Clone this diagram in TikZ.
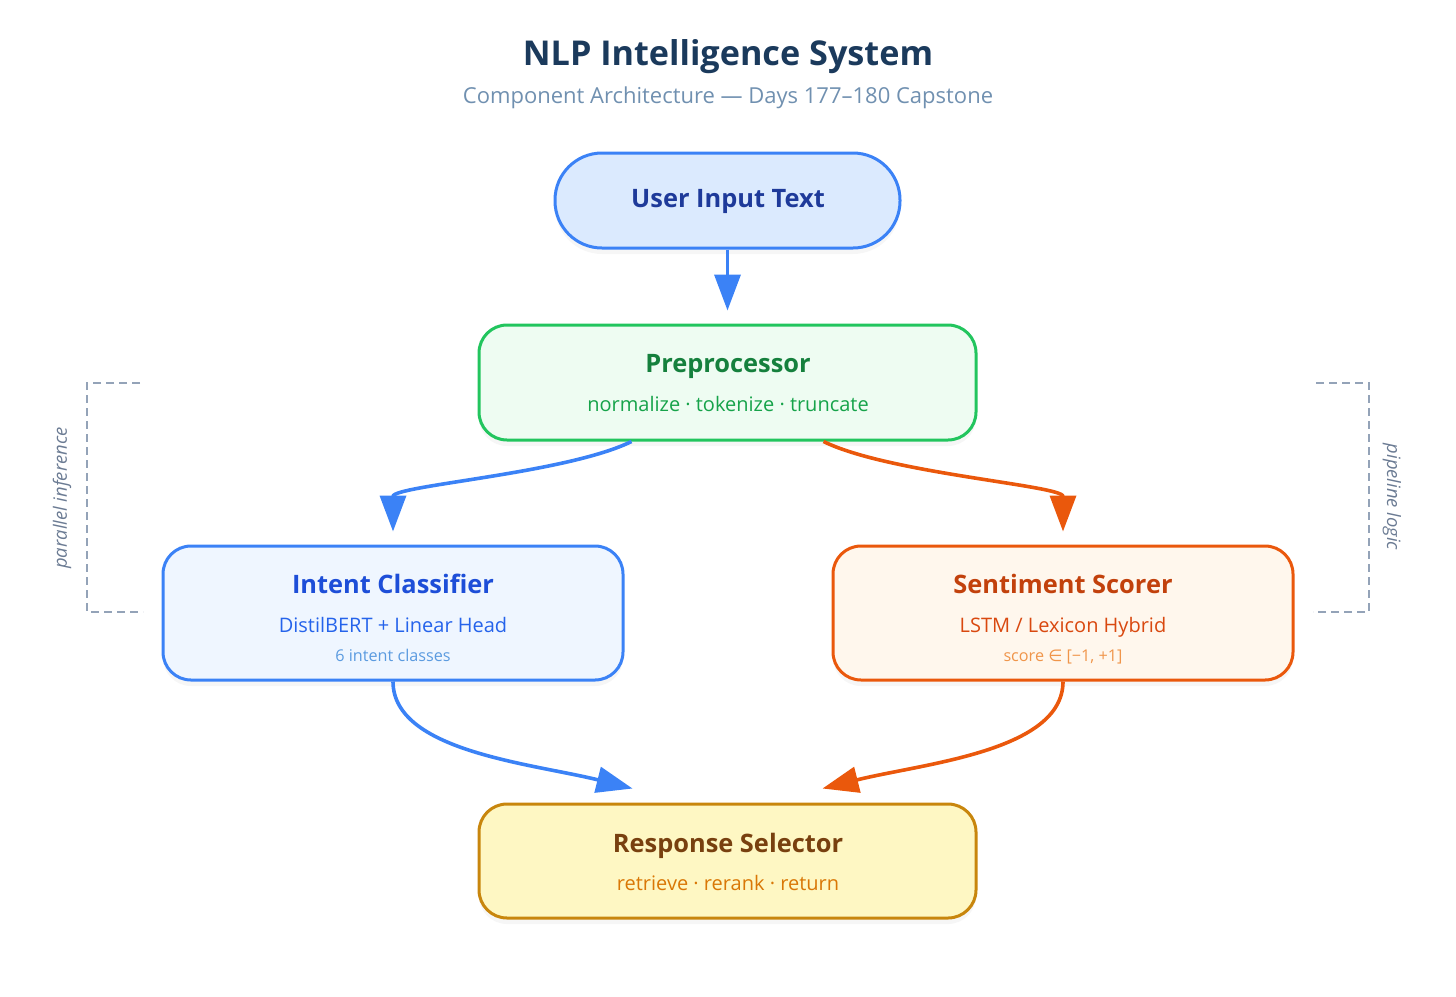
\documentclass[tikz,border=0pt]{standalone}
\usepackage{fontspec}
\setmainfont{Open Sans}
\newfontfamily\symfont{DejaVu Sans}
\usetikzlibrary{arrows.meta,shadows}

\definecolor{titleInk}{HTML}{1B3A5C}
\definecolor{subInk}{HTML}{7090B0}
\definecolor{userFill}{HTML}{DBEAFE}
\definecolor{userLine}{HTML}{3B82F6}
\definecolor{userInk}{HTML}{1E3A9A}
\definecolor{prepFill}{HTML}{EEFCF2}
\definecolor{prepLine}{HTML}{22C55E}
\definecolor{prepInk}{HTML}{15803D}
\definecolor{prepSub}{HTML}{16A34A}
\definecolor{intFill}{HTML}{EFF6FF}
\definecolor{intLine}{HTML}{3B82F6}
\definecolor{intInk}{HTML}{1D4ED8}
\definecolor{intSub}{HTML}{2563EB}
\definecolor{intNote}{HTML}{5B9BE0}
\definecolor{senFill}{HTML}{FFF7ED}
\definecolor{senLine}{HTML}{EA580C}
\definecolor{senInk}{HTML}{C2410C}
\definecolor{senSub}{HTML}{D9480F}
\definecolor{senNote}{HTML}{F0954A}
\definecolor{resFill}{HTML}{FEF7C3}
\definecolor{resLine}{HTML}{C8860D}
\definecolor{resInk}{HTML}{78400F}
\definecolor{resSub}{HTML}{D97706}
\definecolor{brLine}{HTML}{94A3B8}
\definecolor{brInk}{HTML}{6B7B93}

\begin{document}
\begin{tikzpicture}[x=0.5pt,y=-0.5pt,
    box/.style={draw,rounded corners=14pt,line width=1.5pt,inner sep=0pt,
      drop shadow={opacity=0.07,shadow xshift=0pt,shadow yshift=-3pt}},
    head/.style={anchor=base,font=\bfseries\fontsize{12.7pt}{15pt}\selectfont},
    sub/.style={anchor=base,font=\fontsize{10pt}{12pt}\selectfont},
    note/.style={anchor=base,font=\fontsize{8.1pt}{10pt}\selectfont},
    flow/.style={line width=1.8pt,-{Triangle[length=18pt,width=13pt]}},
    bracket/.style={brLine,line width=0.8pt,dash pattern=on 4pt off 2.5pt},
    side/.style={brInk,font=\itshape\fontsize{9.2pt}{11pt}\selectfont}]
  \useasboundingbox (0,0) rectangle (1456,996);

  % title
  \node[anchor=base,titleInk,font=\bfseries\fontsize{17.1pt}{20pt}\selectfont] (title) at (728,65) {NLP Intelligence System};
  \node[anchor=base,subInk,font=\fontsize{11pt}{13pt}\selectfont] (subtitle) at (728,103) {Component Architecture — Days 177–180 Capstone};

  % boxes
  \node[box,rounded corners=23.5pt,fill=userFill,draw=userLine,minimum width=172.5pt,minimum height=47.5pt] (user) at (727.5,200.5) {};
  \node[box,fill=prepFill,draw=prepLine,minimum width=248.5pt,minimum height=57.5pt] (prep) at (727.5,382.5) {};
  \node[box,fill=intFill,draw=intLine,minimum width=230pt,minimum height=67pt] (intent) at (393,613) {};
  \node[box,fill=senFill,draw=senLine,minimum width=230pt,minimum height=67pt] (sent) at (1063,613) {};
  \node[box,fill=resFill,draw=resLine,minimum width=248.5pt,minimum height=57pt] (resp) at (727.5,861) {};

  % texts
  \node[head,userInk] (user title) at (728,207) {User Input Text};
  \node[head,prepInk] (prep title) at (728,372) {Preprocessor};
  \node[sub,prepSub] (prep sub) at (728,411) {normalize · tokenize · truncate};
  \node[head,intInk] (intent title) at (393,593) {Intent Classifier};
  \node[sub,intSub] (intent sub) at (393,632) {DistilBERT + Linear Head};
  \node[note,intNote] (intent note) at (393,661) {6 intent classes};
  \node[head,senInk] (sent title) at (1063,593) {Sentiment Scorer};
  \node[sub,senSub] (sent sub) at (1063,632) {LSTM / Lexicon Hybrid};
  \node[note,senNote] (sent note) at (1063,661) {score {\symfont ∈} [−1, +1]};
  \node[head,resInk] (resp title) at (728,852) {Response Selector};
  \node[sub,resSub] (resp sub) at (728,890.5) {retrieve · rerank · return};

  % side brackets
  \coordinate (lb top) at (140,383);
  \coordinate (lb bot) at (143,612);
  \coordinate (rb top) at (1316,383);
  \coordinate (rb bot) at (1313,612);
  \draw[bracket] (lb top) -| (87,612) -- (lb bot);
  \draw[bracket] (rb top) -| (1369,612) -- (rb bot);
  \node[side,rotate=90] (par) at (62,498) {parallel inference};
  \node[side,rotate=-90] (pipe) at (1392,497) {pipeline logic};

  % connectors
  \draw[flow,userLine] (user.south) -- ([yshift=6.5pt]prep.north);
  \draw[flow,intLine] ([xshift=-48pt]prep.south) .. controls +(-65,32) and +(0,-46) .. ([yshift=6.5pt]intent.north);
  \draw[flow,senLine] ([xshift=48pt]prep.south) .. controls +(65,32) and +(0,-46) .. ([yshift=6.5pt]sent.north);
  \draw[flow,intLine] (intent.south) .. controls +(0,70) and +(-100,-25) .. ([shift={(-47.5pt,7pt)}]resp.north);
  \draw[flow,senLine] (sent.south) .. controls +(0,70) and +(100,-25) .. ([shift={(47.5pt,7pt)}]resp.north);
\end{tikzpicture}
\end{document}
